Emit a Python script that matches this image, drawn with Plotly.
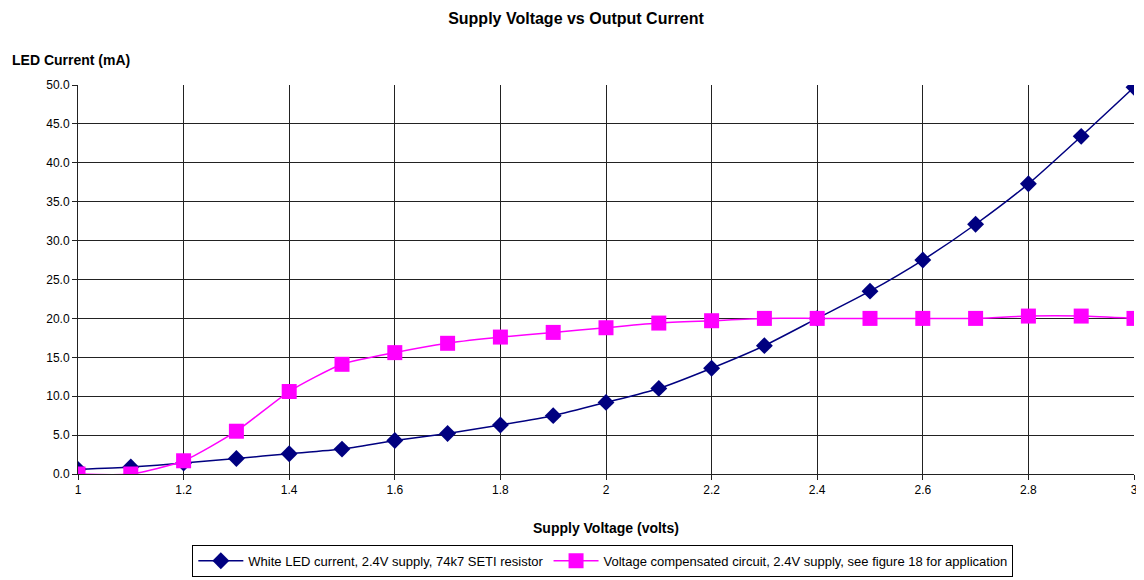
import plotly.graph_objects as go

supply_v = [1.0, 1.1, 1.2, 1.3, 1.4, 1.5, 1.6, 1.7, 1.8, 1.9, 2.0,
            2.1, 2.2, 2.3, 2.4, 2.5, 2.6, 2.7, 2.8, 2.9, 3.0]
white_led_ma = [0.6, 0.9, 1.4, 2.0, 2.6, 3.2, 4.3, 5.2, 6.3, 7.5, 9.2,
                11.0, 13.6, 16.5, 20.0, 23.5, 27.5, 32.1, 37.3, 43.4, 49.7]
compensated_ma = [0.0, 0.0, 1.7, 5.5, 10.6, 14.1, 15.6, 16.8, 17.6, 18.2, 18.8,
                  19.4, 19.7, 20.0, 20.0, 20.0, 20.0, 20.0, 20.3, 20.3, 20.0]
x_ticks = [1.0, 1.2, 1.4, 1.6, 1.8, 2.0, 2.2, 2.4, 2.6, 2.8, 3.0]
x_tick_text = ["1", "1.2", "1.4", "1.6", "1.8", "2", "2.2", "2.4", "2.6", "2.8", "3"]

FONT = "Liberation Sans, Arial, sans-serif"

# page has an 8px body margin, so the figure is a bit smaller than the window
fig = go.Figure()
fig.add_trace(go.Scatter(
    x=supply_v, y=white_led_ma, mode="lines+markers",
    name="White LED current, 2.4V supply, 74k7 SETI resistor",
    line=dict(color="#000080", width=1.5, shape="spline", smoothing=0.6),
    marker=dict(symbol="diamond", size=13, color="#000080"),
))
fig.add_trace(go.Scatter(
    x=supply_v, y=compensated_ma, mode="lines+markers",
    name="Voltage compensated circuit, 2.4V supply, see figure 18 for application",
    line=dict(color="#FF00FF", width=1.5, shape="spline", smoothing=0.6),
    marker=dict(symbol="square", size=15, color="#FF00FF"),
))

fig.update_layout(
    width=1136, height=572,
    paper_bgcolor="white", plot_bgcolor="white",
    font=dict(family=FONT, size=12, color="black"),
    margin=dict(l=70, r=10, t=77, b=106, autoexpand=False),
    title=dict(text="<b>Supply Voltage vs Output Current</b>", x=0.5, xanchor="center",
               y=1 - 10 / 572, yref="container", yanchor="middle",
               font=dict(size=16, family=FONT)),
    showlegend=True,
    legend=dict(orientation="h", x=0.497, xanchor="center", y=-0.182, yanchor="top",
                bordercolor="black", borderwidth=1, font=dict(size=13),
                itemwidth=45),
    annotations=[dict(text="<b>LED Current (mA)</b>", xref="paper", yref="paper",
                      x=-0.0644, y=1.064, xanchor="left", yanchor="middle",
                      showarrow=False, font=dict(size=14, family=FONT))],
)
fig.update_xaxes(
    range=[1, 3], tickmode="array", tickvals=x_ticks, ticktext=x_tick_text,
    showgrid=True, gridcolor="#222", gridwidth=1, automargin=False,
    ticks="outside", ticklen=5, tickcolor="#222", showline=True, linecolor="#222",
    zeroline=False,
    title=dict(text="<b>Supply Voltage (volts)</b>", font=dict(size=14), standoff=26),
)
fig.update_yaxes(
    range=[0, 50], dtick=5, tickformat=".1f", showgrid=True, gridcolor="#222", gridwidth=1,
    ticks="outside", ticklen=5, tickcolor="#222", showline=True, linecolor="#222",
    zeroline=False, automargin=False,
)

fig.write_html("out.html")
